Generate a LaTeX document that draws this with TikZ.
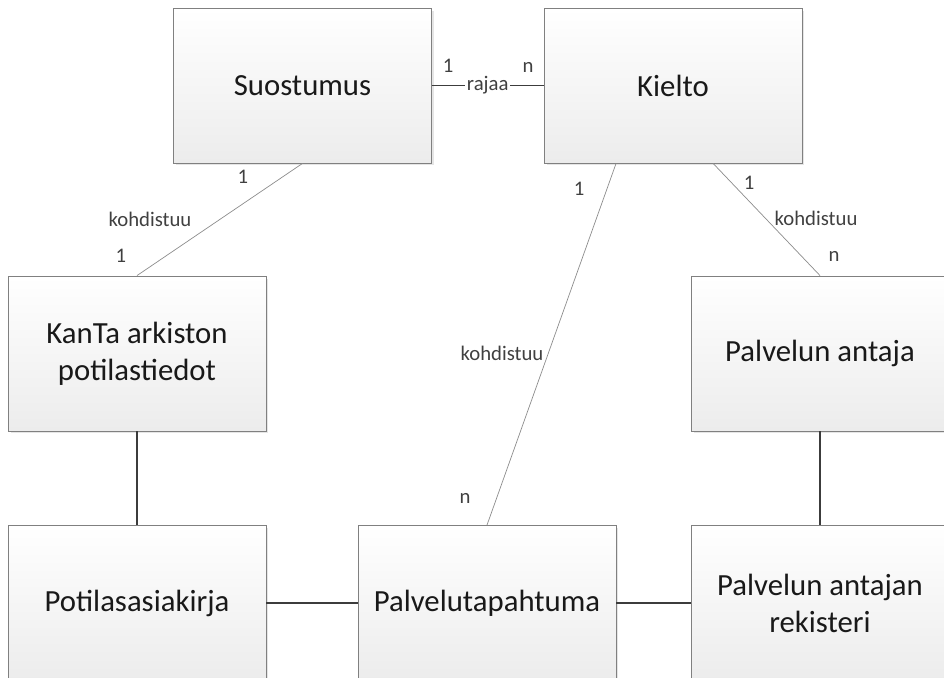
\documentclass[tikz,border=0pt]{standalone}
\usepackage{fontspec}
\setmainfont{Carlito}
\usetikzlibrary{calc, shadows}

\definecolor{boxline}{RGB}{128,128,128}
\definecolor{boxbottom}{RGB}{236,236,236}
\definecolor{strongline}{RGB}{60,60,60}
\definecolor{thinline}{RGB}{140,140,140}
\definecolor{labeltext}{RGB}{64,64,64}

\begin{document}
\begin{tikzpicture}[x=0.02cm, y=-0.02cm,
    entity/.style={draw=boxline, line width=0.5pt, top color=white, bottom color=boxbottom,
        minimum width=5.16cm, minimum height=3.1cm, inner sep=0pt, align=center,
        font=\fontsize{17.5}{21}\selectfont, text=black!90,
        drop shadow={shadow xshift=0.05cm, shadow yshift=-0.05cm, fill=black!25, opacity=0.4}},
    link/.style={draw=strongline, line width=0.85pt},
    rel/.style={draw=thinline, line width=0.4pt},
    tag/.style={font=\fontsize{11.8}{14}\selectfont, text=labeltext, inner sep=1pt}
]

    % ==========================================
    % CANVAS
    % ==========================================
    \clip (0,0) rectangle (944,678);

    % ==========================================
    % ENTITIES
    % ==========================================

    % Top row
    \node[entity] (suostumus) at (302.5, 85.5) {Suostumus};
    \node[entity] (kielto) at (673, 85.5) {Kielto};

    % Middle row
    \node[entity] (kanta) at (137, 353.5) {KanTa arkiston\\potilastiedot};
    \node[entity] (antaja) at (820, 353.5) {Palvelun antaja};

    % Bottom row (cut by the lower edge)
    \node[entity] (potilas) at (137, 603) {Potilasasiakirja};
    \node[entity] (tapahtuma) at (487, 603) {Palvelutapahtuma};
    \node[entity] (rekisteri) at (820, 603) {Palvelun antajan\\rekisteri};

    % ==========================================
    % RELATIONS WITH CARDINALITIES
    % ==========================================

    % Suostumus -- Kielto
    \draw[link] (suostumus.east) -- node[tag, fill=white] (rajaa) {rajaa} (kielto.west);
    \node[tag] (rajaa1) at (448, 66) {1};
    \node[tag] (rajaan) at (528, 67) {n};

    % Suostumus -- KanTa
    \draw[rel] (suostumus.south) -- (kanta.north);
    \node[tag] (sk1) at (243, 177) {1};
    \node[tag] (skrel) at (150, 219) {kohdistuu};
    \node[tag] (sk2) at (121, 256) {1};

    % Kielto -- Palvelutapahtuma
    \coordinate (kieltoL) at ($(kielto.south west)!0.28!(kielto.south east)$);
    \draw[rel] (kieltoL) -- (tapahtuma.north);
    \node[tag] (kt1) at (579, 189) {1};
    \node[tag] (ktrel) at (502, 353) {kohdistuu};
    \node[tag] (ktn) at (465, 498) {n};

    % Kielto -- Palvelun antaja
    \coordinate (kieltoR) at ($(kielto.south west)!0.655!(kielto.south east)$);
    \draw[rel] (kieltoR) -- (antaja.north);
    \node[tag] (ka1) at (749, 183) {1};
    \node[tag] (karel) at (816, 218) {kohdistuu};
    \node[tag] (kan) at (834, 256) {n};

    % ==========================================
    % PLAIN LINKS
    % ==========================================
    \draw[link] (kanta.south) -- (potilas.north);
    \draw[link] (antaja.south) -- (rekisteri.north);
    \draw[link] (potilas.east) -- (tapahtuma.west);
    \draw[link] (tapahtuma.east) -- (rekisteri.west);

\end{tikzpicture}
\end{document}
